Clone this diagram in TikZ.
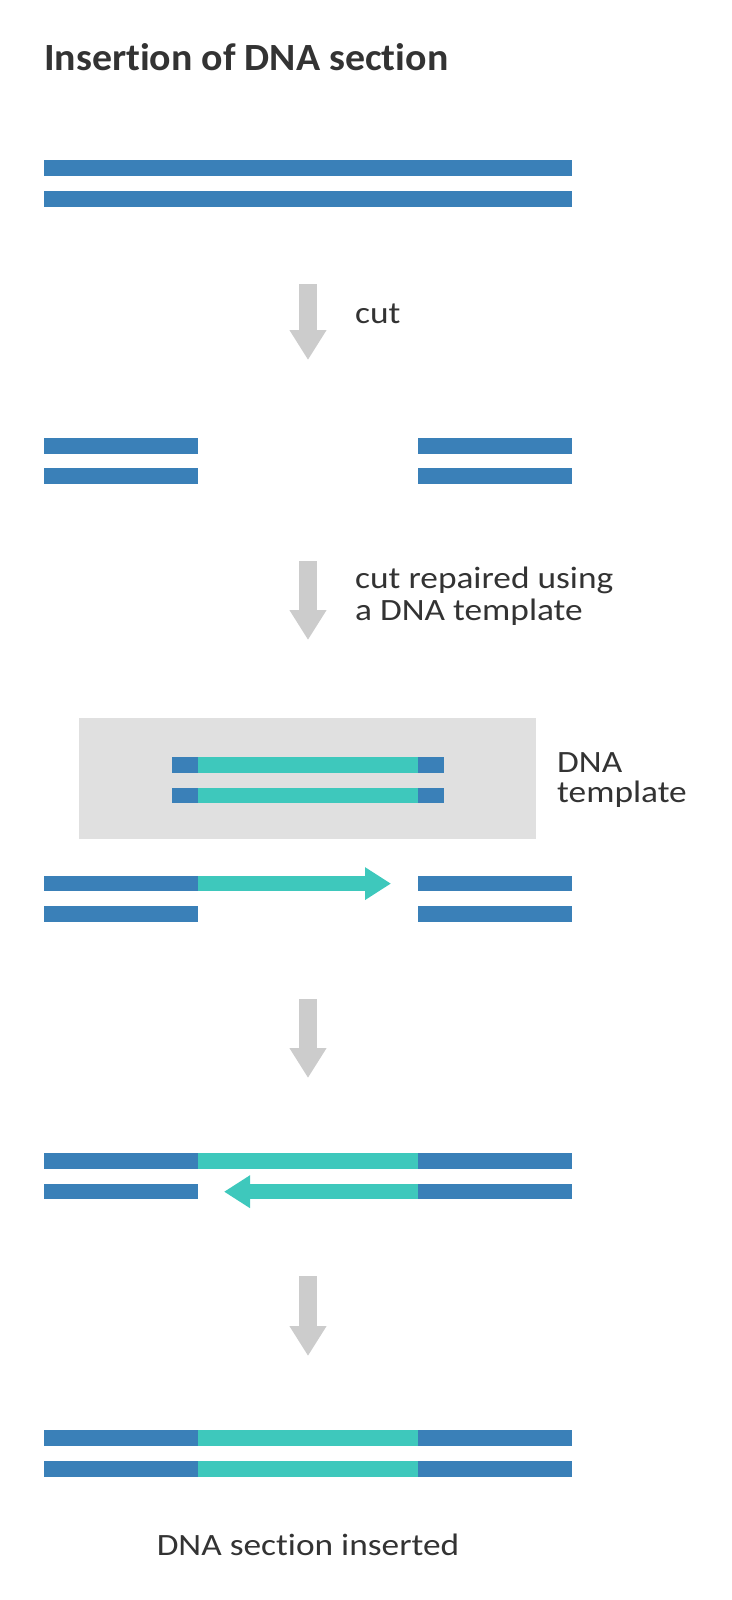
\documentclass[tikz,border=0pt]{standalone}
\usepackage{fontspec}
\setmainfont{Carlito}[Ligatures=NoCommon]
\newfontfamily\bodyfont{Carlito}[FakeStretch=1.14, Ligatures=NoCommon]
\newfontfamily\titlefont{Carlito}[FakeStretch=1.035, Ligatures=NoCommon]
\usetikzlibrary{arrows.meta}
\definecolor{dnablue}{HTML}{3A80B8}
\definecolor{dnateal}{HTML}{3EC8BC}
\definecolor{arrowgray}{HTML}{CCCCCC}
\definecolor{boxgray}{HTML}{E0E0E0}
\definecolor{txt}{HTML}{333333}
\tikzset{
  seg/.style={rectangle, inner sep=0pt, outer sep=0pt, minimum height=15.5pt, draw=none},
  blueseg/.style={seg, fill=dnablue},
  tealseg/.style={seg, fill=dnateal},
  steparrow/.style={draw=arrowgray, line width=18pt, -{Triangle[width=35pt,length=30pt]}, arrowgray},
  tealarrow/.style={draw=dnateal, line width=15.5pt, -{Triangle[width=31pt,length=26pt]}, dnateal},
  lbl/.style={inner sep=0pt, text=txt, font=\bodyfont\fontsize{31}{32}\selectfont},
}
\begin{document}
\begin{tikzpicture}[x=1pt,y=-1pt]
\useasboundingbox (0,0) rectangle (731,1600);
% title
\node[lbl, anchor=base west, font=\titlefont\fontsize{38.5}{40}\selectfont\bfseries] (title) at (44,71) {Insertion of DNA section};
% row A
\node[blueseg, minimum width=528pt] (a1) at (308,168) {};
\node[blueseg, minimum width=528pt] (a2) at (308,199) {};
% arrow 1
\coordinate (s1) at (308,284);
\coordinate (t1) at (308,360);
\draw[steparrow] (s1) -- (t1);
\node[lbl, anchor=base west] (cut) at (355,323) {cut};
% row B
\node[blueseg, minimum width=154pt] (b1l) at (121,445.8) {};
\node[blueseg, minimum width=154pt] (b1r) at (495,445.8) {};
\node[blueseg, minimum width=154pt] (b2l) at (121,476) {};
\node[blueseg, minimum width=154pt] (b2r) at (495,476) {};
% arrow 2
\coordinate (s2) at (308,561);
\coordinate (t2) at (308,640);
\draw[steparrow] (s2) -- (t2);
\node[lbl, anchor=base west] (rep1) at (355,588) {cut repaired using};
\node[lbl, anchor=base west] (rep2) at (355,620) {a DNA template};
% template box
\node[rectangle, fill=boxgray, inner sep=0pt, minimum width=457pt, minimum height=121pt] (tbox) at (307.5,778.5) {};
\node[blueseg, minimum width=26pt] (t1l) at (185,764.8) {};
\node[tealseg, minimum width=220pt] (t1m) at (308,764.8) {};
\node[blueseg, minimum width=26pt] (t1r) at (431,764.8) {};
\node[blueseg, minimum width=26pt] (t2l) at (185,795.5) {};
\node[tealseg, minimum width=220pt] (t2m) at (308,795.5) {};
\node[blueseg, minimum width=26pt] (t2r) at (431,795.5) {};
\node[lbl, anchor=base west] (tl1) at (557,772.7) {DNA};
\node[lbl, anchor=base west] (tl2) at (557,802.7) {template};
% row C
\node[blueseg, minimum width=154pt] (c1l) at (121,883.6) {};
\node[blueseg, minimum width=154pt] (c1r) at (495,883.6) {};
\node[blueseg, minimum width=154pt] (c2l) at (121,914.2) {};
\node[blueseg, minimum width=154pt] (c2r) at (495,914.2) {};
\coordinate (c1tip) at (391,883.6);
\draw[tealarrow] (c1l.east) -- (c1tip);
% arrow 3
\coordinate (s3) at (308,999);
\coordinate (t3) at (308,1078);
\draw[steparrow] (s3) -- (t3);
% row D
\node[blueseg, minimum width=154pt] (d1l) at (121,1161) {};
\node[tealseg, minimum width=220pt] (d1m) at (308,1161) {};
\node[blueseg, minimum width=154pt] (d1r) at (495,1161) {};
\node[blueseg, minimum width=154pt] (d2l) at (121,1191.7) {};
\node[blueseg, minimum width=154pt] (d2r) at (495,1191.7) {};
\coordinate (d2tip) at (224,1191.7);
\draw[tealarrow] (d2r.west) -- (d2tip);
% arrow 4
\coordinate (s4) at (308,1276);
\coordinate (t4) at (308,1356);
\draw[steparrow] (s4) -- (t4);
% row E
\node[blueseg, minimum width=154pt] (e1l) at (121,1438) {};
\node[tealseg, minimum width=220pt] (e1m) at (308,1438) {};
\node[blueseg, minimum width=154pt] (e1r) at (495,1438) {};
\node[blueseg, minimum width=154pt] (e2l) at (121,1469) {};
\node[tealseg, minimum width=220pt] (e2m) at (308,1469) {};
\node[blueseg, minimum width=154pt] (e2r) at (495,1469) {};
\node[lbl, anchor=base] (done) at (308,1555) {DNA section inserted};
\end{tikzpicture}
\end{document}
